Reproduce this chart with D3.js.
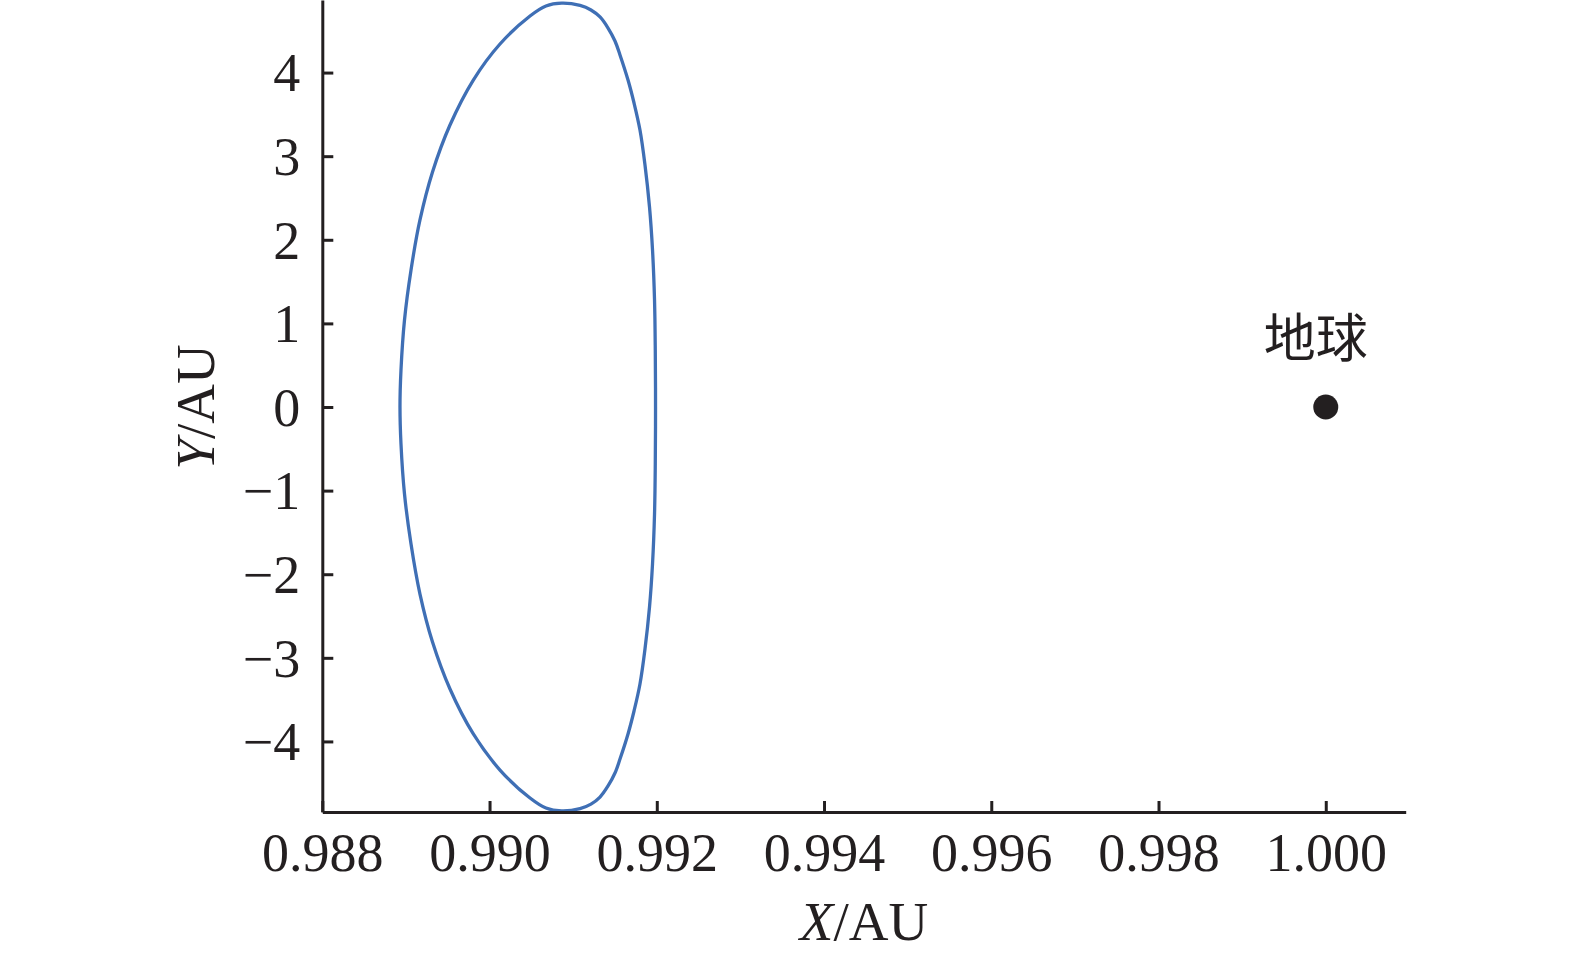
<!DOCTYPE html>
<html>
<head>
<meta charset="utf-8">
<script src="https://cdn.jsdelivr.net/npm/d3@7/dist/d3.min.js"></script>
<style>
html,body{margin:0;padding:0;background:#fff;}
svg{display:block;}
</style>
</head>
<body>
<svg id="chart" width="1575" height="958"></svg>
<script>
// Orbit points (AU), traced around the closed curve: top -> left branch down -> bottom -> right branch up
const orbitX = [0.990863,0.990675,0.990484,0.990125,0.989806,0.989527,0.989318,0.989168,0.989061,0.988983,0.988941,0.988929,
  0.988941,0.988983,0.989061,0.989168,0.989318,0.989527,0.989806,0.990125,0.990484,0.990675,0.990863,
  0.991082,0.991213,0.991321,0.991417,0.991500,0.991560,0.991656,0.991728,0.991799,0.991859,0.991913,0.991949,0.991973,0.991982,0.991985,
  0.991982,0.991973,0.991949,0.991913,0.991859,0.991799,0.991728,0.991656,0.991560,0.991500,0.991417,0.991321,0.991213,0.991082];
const orbitY = [4.830,4.797,4.677,4.342,3.911,3.373,2.811,2.237,1.639,1.041,0.443,0.000,
  -0.443,-1.041,-1.639,-2.237,-2.811,-3.373,-3.911,-4.342,-4.677,-4.797,-4.830,
  -4.803,-4.749,-4.665,-4.533,-4.378,-4.211,-3.911,-3.636,-3.313,-2.895,-2.392,-1.878,-1.280,-0.682,0.000,
  0.682,1.280,1.878,2.392,2.895,3.313,3.636,3.911,4.211,4.378,4.533,4.665,4.749,4.803];
const xTicks = [0.988,0.990,0.992,0.994,0.996,0.998,1.000];
const yTicks = [-4,-3,-2,-1,0,1,2,3,4];
const earth = {x:1.000, y:0, label:"地球"};

(function(){
const svg = d3.select("#chart");
const mLeft = 322.3, mRight = 1405.7, mTop = 0, mBottom = 812;
const x = d3.scaleLinear().domain([0.988, 1.000956]).range([mLeft, mRight]);
const y = d3.scaleLinear().domain([-4.844, 4.868]).range([mBottom, mTop]);
const axisColor = "#231f20";
const serif = "'Liberation Serif','Times New Roman',serif";

// Orbit
const pts = orbitX.map((d,i)=>[d, orbitY[i]]);
svg.append("path")
  .datum(pts)
  .attr("d", d3.line().x(d=>x(d[0])).y(d=>y(d[1])).curve(d3.curveCatmullRomClosed.alpha(0.5)))
  .attr("fill","none")
  .attr("stroke","#3f6fb5")
  .attr("stroke-width",3.3);

// Axes
const xAxis = d3.axisBottom(x).tickValues(xTicks).tickFormat(d3.format(".3f"))
  .tickSizeInner(-11).tickSizeOuter(0).tickPadding(21);
const yAxis = d3.axisLeft(y).tickValues(yTicks).tickFormat(d3.format("d"))
  .tickSizeInner(-11).tickSizeOuter(0).tickPadding(22);

const gx = svg.append("g").attr("transform",`translate(0,${mBottom})`).call(xAxis);
const gy = svg.append("g").attr("transform",`translate(${mLeft},0)`).call(yAxis);
[gx,gy].forEach(g=>{
  g.select(".domain").attr("stroke",axisColor).attr("stroke-width",3);
  g.selectAll(".tick line").attr("stroke",axisColor).attr("stroke-width",3);
  g.selectAll(".tick text").attr("fill",axisColor).attr("font-family",serif).attr("font-size",54);
});
gy.selectAll(".tick text").attr("dy","0.34em");

// Axis titles
const xt = svg.append("text").attr("x",864).attr("y",940).attr("text-anchor","middle")
  .attr("font-family",serif).attr("font-size",55).attr("fill",axisColor);
xt.append("tspan").attr("font-style","italic").text("X");
xt.append("tspan").text("/AU");

const yt = svg.append("text").attr("transform","translate(214,407) rotate(-90)").attr("text-anchor","middle")
  .attr("font-family",serif).attr("font-size",55).attr("fill",axisColor);
yt.append("tspan").attr("font-style","italic").text("Y");
yt.append("tspan").text("/AU");

// Earth
svg.append("circle").attr("cx",x(earth.x)).attr("cy",y(earth.y)).attr("r",12.5).attr("fill",axisColor);
svg.append("text").attr("x",x(earth.x)-10).attr("y",y(earth.y)-50).attr("text-anchor","middle")
  .attr("font-family","'Noto Sans CJK SC',sans-serif").attr("font-size",52).attr("fill",axisColor)
  .text(earth.label);
})();
</script>
</body>
</html>
